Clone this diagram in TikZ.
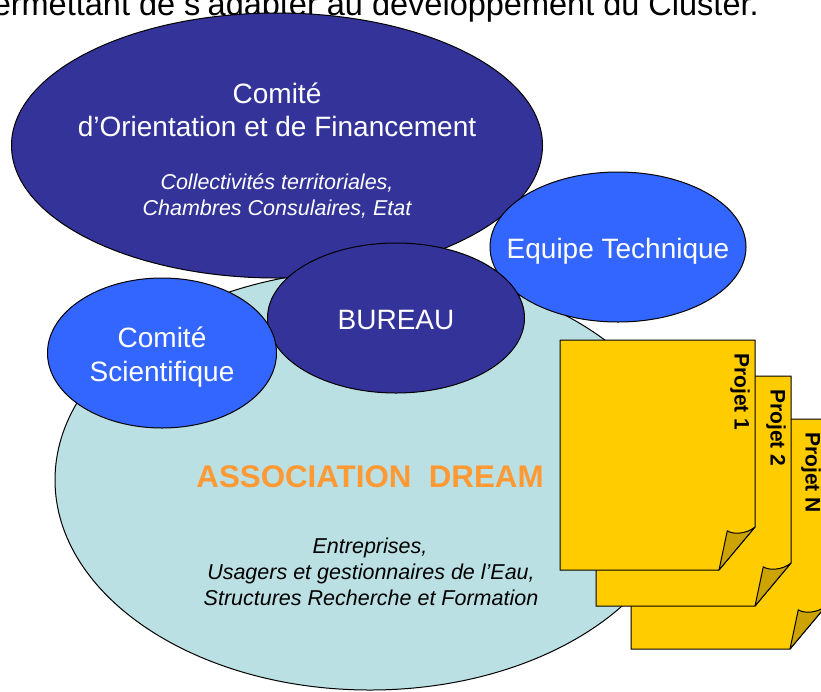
\documentclass[tikz,border=0pt]{standalone}
\usepackage{fontspec}
\setmainfont{Liberation Sans}
\usetikzlibrary{shapes.geometric}
\definecolor{navy}{RGB}{51,51,153}
\definecolor{bblue}{RGB}{51,102,255}
\definecolor{lcyan}{RGB}{187,224,227}
\definecolor{dorange}{RGB}{255,153,51}
\definecolor{pyellow}{RGB}{255,204,0}
\definecolor{pfold}{RGB}{204,163,0}
\tikzset{
  oval/.style={ellipse,draw=black,line width=1pt,inner sep=0pt},
  wtxt/.style={text=white,anchor=base,inner sep=0pt,font=\fontsize{28}{34}\selectfont},
  itxt/.style={anchor=base,inner sep=0pt,font=\fontsize{21.5}{25}\selectfont\itshape},
  pagebody/.style={draw=black,line width=1pt,fill=pyellow,line join=round},
  pagefold/.style={draw=black,line width=1pt,fill=pfold,line join=round},
  plabel/.style={rotate=-90,anchor=west,inner sep=0pt,font=\fontsize{21}{25}\selectfont\bfseries},
  pics/projpage/.style={code={
    \draw[pagebody] (0,0) -- (195,0) -- (195,187) -- (159,230) -- (0,230) -- cycle;
    \draw[pagefold] (159,230) -- (167.3,190.7) .. controls (172,194.5) and (186,194.5) .. (195,187) -- cycle;
    \node[plabel] (-label) at (180,13) {#1};
  }}
}
\begin{document}
\begin{tikzpicture}[x=1pt,y=-1pt]
\useasboundingbox (0,0) rectangle (821,691);
% top text (cut by the frame, as in the reference)
\node[anchor=base east,inner sep=0pt,font=\fontsize{32.5}{39}\selectfont] (toptxt) at (759,15.5) {permettant de s’adapter au développement du Cluster.};
% ellipses
\node[oval,fill=lcyan,minimum width=630,minimum height=420] (assoc) at (370,480) {};
\node[oval,fill=navy,minimum width=531,minimum height=265] (cof) at (277,145.5) {};
\node[oval,fill=bblue,minimum width=256,minimum height=150] (eqt) at (618,247) {};
\node[oval,fill=navy,minimum width=257,minimum height=150] (bur) at (396,318) {};
\node[oval,fill=bblue,minimum width=229,minimum height=150] (cs) at (162,353) {};
% texts
\node[wtxt] (cof1) at (277,103) {Comité};
\node[wtxt] (cof2) at (277,136) {d’Orientation et de Financement};
\node[itxt,text=white] (cof3) at (277,189) {Collectivités territoriales,};
\node[itxt,text=white] (cof4) at (277,215) {Chambres Consulaires, Etat};
\node[wtxt] (eqtt) at (618,258) {Equipe Technique};
\node[wtxt] (burt) at (396,329) {BUREAU};
\node[wtxt] (cs1) at (162,347) {Comité};
\node[wtxt] (cs2) at (162,381) {Scientifique};
\node[anchor=base,inner sep=0pt,text=dorange,font=\fontsize{31.3}{37}\selectfont\bfseries] (title) at (370,487) {ASSOCIATION\ \ DREAM};
\node[itxt] (as1) at (370,553) {Entreprises,};
\node[itxt] (as2) at (371,579) {Usagers et gestionnaires de l’Eau,};
\node[itxt] (as3) at (371,605) {Structures Recherche et Formation};
% project pages
\pic (pN) at (631,419) {projpage=Projet N};
\pic (p2) at (596,376) {projpage=Projet 2};
\pic (p1) at (560,340) {projpage=Projet 1};
\end{tikzpicture}
\end{document}
